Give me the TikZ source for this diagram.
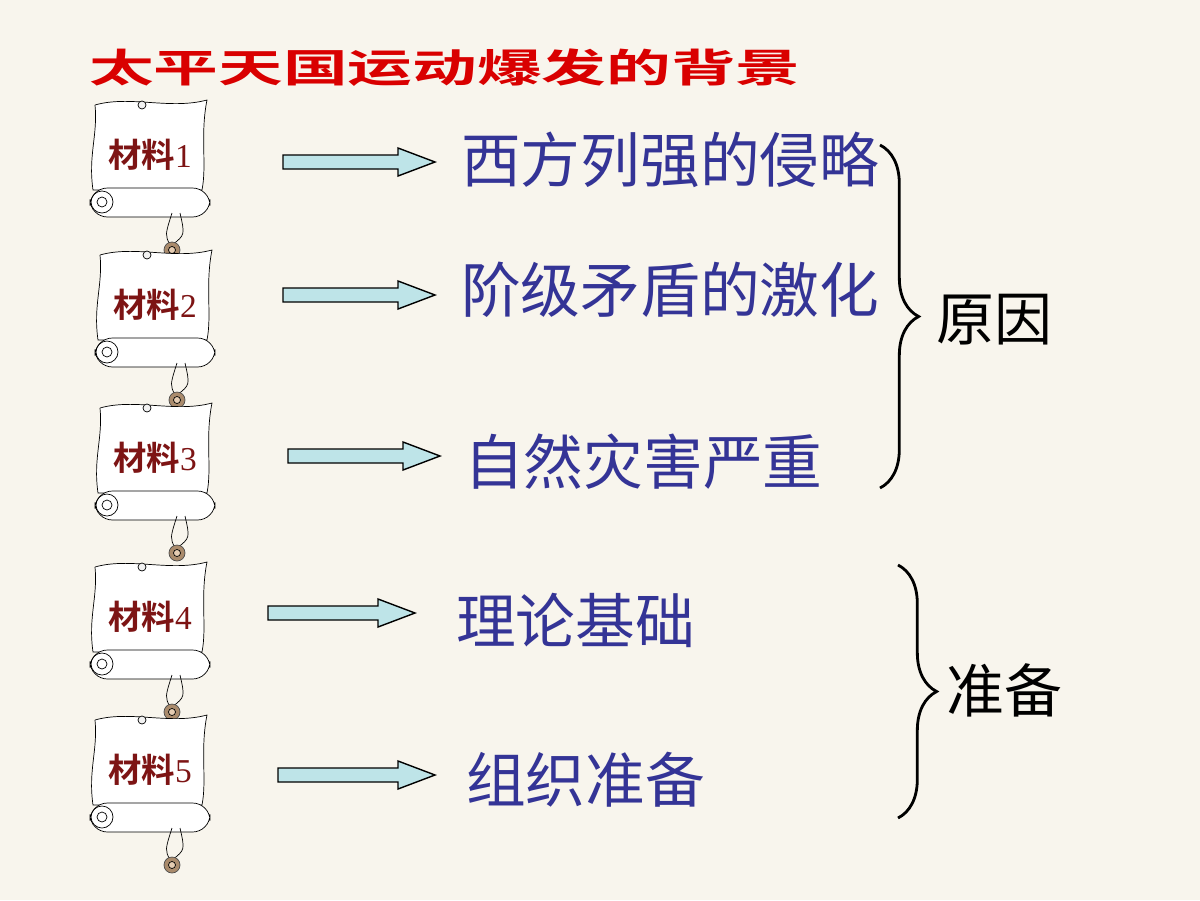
\documentclass[tikz,border=0pt]{standalone}
\usepackage{fontspec}
\setmainfont{Liberation Serif}
\newfontfamily\cjk{Noto Sans CJK SC}
\newfontfamily\cjkb{Noto Sans CJK SC Bold}
\usetikzlibrary{decorations.pathreplacing}
\definecolor{bg}{RGB}{248,245,237}
\definecolor{txt}{RGB}{52,52,150}
\definecolor{lab}{RGB}{125,20,20}
\definecolor{arr}{RGB}{190,228,232}
\tikzset{
  main/.style={font=\cjk\fontsize{34}{38}\selectfont, text=txt, anchor=west},
  side/.style={font=\cjk\fontsize{33}{36}\selectfont, text=black, anchor=west},
  mat/.style={font=\fontsize{19}{20}\selectfont, text=lab},
  brace/.style={decorate, decoration={brace, amplitude=22}, line width=1.6pt},
  ar/.style={draw=black, fill=arr, line width=0.8pt},
  scroll/.pic={
    \draw[fill=white, line width=0.4pt] (-55,-50) .. controls (-20,-60) and (20,-45) .. (57,-55)
       .. controls (50,-20) and (57,10) .. (52,35) -- (-57,35) .. controls (-62,0) and (-52,-20) .. (-55,-50);
    \draw[fill=gray!10] (-8,-50) circle (4);
    \draw[fill=white, rounded corners=10] (-60,33) rectangle (60,62);
    \draw (-48,47) circle (11) (-48,47) circle (5);
    \draw (22,58) .. controls (15,80) .. (20,90) (30,58) .. controls (35,80) .. (22,90);
    \draw[fill=brown!70!black!70, draw=black!70] (22,95) circle (8);
    \draw[fill=brown!40] (22,95) circle (3.5);
  }
}
\begin{document}
\begin{tikzpicture}[x=0.02cm,y=-0.02cm]
\fill[bg] (0,0) rectangle (1200,900);
\useasboundingbox (0,0) rectangle (1200,900);
\node[anchor=west, text=red!85!black, font=\cjkb\fontsize{32}{36}\selectfont, yscale=0.7, xscale=1.15] (title) at (82,68) {太平天国运动爆发的背景};
\foreach \i/\x/\y in {1/150/155,2/155/305,3/155/458,4/150/617,5/150/770}{
  \pic at (\x,\y) {scroll};
  \node[mat] (m\i) at (\x,\y) {{\cjkb 材料}\i};
}
\foreach \i/\xa/\xb/\y in {1/283/435/162,2/283/435/295,3/288/440/456,4/268/415/613,5/278/435/775}{
  \coordinate (s\i) at (\xa,\y);
  \draw[ar] (s\i) ++(0,-7) -- ++({\xb-\xa-37},0) -- ++(0,-7) -- (\xb,\y) -- ++({-37},14) -- ++(0,-7) -- ++({-(\xb-\xa-37)},0) -- cycle;
}
\node[main] (t1) at (455,160) {西方列强的侵略};
\node[main] (t2) at (455,290) {阶级矛盾的激化};
\node[main] (t3) at (458,462) {自然灾害严重};
\node[main] (t4) at (450,620) {理论基础};
\node[main] (t5) at (460,780) {组织准备};
\coordinate (b1t) at (880,145); \coordinate (b1b) at (880,488);
\coordinate (b2t) at (898,565); \coordinate (b2b) at (898,818);
\draw[brace] (b1t) -- (b1b);
\draw[brace] (b2t) -- (b2b);
\node[side] (r1) at (930,320) {原因};
\node[side] (r2) at (940,690) {准备};
\end{tikzpicture}
\end{document}
